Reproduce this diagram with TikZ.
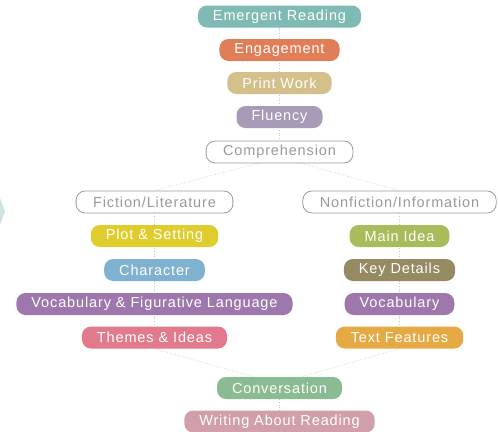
\documentclass[tikz,border=0pt]{standalone}
\usepackage{fontspec}
\setmainfont{Liberation Sans}[LetterSpace=6]
\usetikzlibrary{backgrounds}

\definecolor{emergent}{HTML}{7FBAB5}
\definecolor{engage}{HTML}{E07E58}
\definecolor{printw}{HTML}{D4C08A}
\definecolor{fluent}{HTML}{A89BB8}
\definecolor{outline}{HTML}{9A9A9A}
\definecolor{plotc}{HTML}{DFCD2E}
\definecolor{charc}{HTML}{7FB1D1}
\definecolor{vocabc}{HTML}{9E78AD}
\definecolor{themec}{HTML}{E07A8C}
\definecolor{mainc}{HTML}{A8BC5C}
\definecolor{keyc}{HTML}{968A63}
\definecolor{featc}{HTML}{E6AA45}
\definecolor{convc}{HTML}{8ABB92}
\definecolor{writec}{HTML}{D09FAA}
\definecolor{chevron}{HTML}{CFE3E2}

\begin{document}
\begin{tikzpicture}[
        x=1bp, y=-1bp,
        every node/.style={font=\fontsize{14.5bp}{16bp}\selectfont},
        pill/.style={rounded corners=9bp, minimum height=22bp,
          inner xsep=15bp, inner ysep=0pt, text=white, fill=#1},
        hollow/.style={rounded corners=9bp, minimum height=22bp,
          inner xsep=17bp, inner ysep=0pt, text=outline, draw=outline,
          fill=white, line width=0.8pt},
        link/.style={draw=black!22, dotted, line width=0.7pt}
    ]
    \useasboundingbox (0,0) rectangle (498,431);

    % Chevron at the left edge
    \fill[chevron] (0,198) -- (5,211.5) -- (0,225) -- cycle;

    % Trunk
    \node[pill=emergent] (emerg) at (279.5,16.5) {Emergent Reading};
    \node[pill=engage] (engage) at (279.5,50) {Engagement};
    \node[pill=printw] (print) at (279.5,83) {Print Work};
    \node[pill=fluent] (fluency) at (279.5,117) {Fluency};
    \node[hollow] (comp) at (279.5,152) {Comprehension};

    % Fiction side
    \node[hollow] (fiction) at (154.5,202) {Fiction/Literature};
    \node[pill=plotc] (plot) at (154.5,236) {Plot \& Setting};
    \node[pill=charc] (char) at (154.5,270) {Character};
    \node[pill=vocabc] (figlang) at (154.5,304) {Vocabulary \& Figurative Language};
    \node[pill=themec] (themes) at (154.5,337.5) {Themes \& Ideas};

    % Nonfiction side
    \node[hollow] (nonfic) at (399.5,202) {Nonfiction/Information};
    \node[pill=mainc] (mainidea) at (399.5,236) {Main Idea};
    \node[pill=keyc] (keydet) at (399.5,270) {Key Details};
    \node[pill=vocabc] (vocab) at (399.5,304) {Vocabulary};
    \node[pill=featc] (feat) at (399.5,337.5) {Text Features};

    % Bottom
    \node[pill=convc] (conv) at (279.5,388) {Conversation};
    \node[pill=writec] (writing) at (279.5,421.5) {Writing About Reading};

    % Dotted connectors
    \begin{scope}[on background layer]
      \draw[link] (emerg) -- (comp);
      \draw[link] ([xshift=-22bp]comp.south) -- (fiction.north);
      \draw[link] ([xshift=22bp]comp.south) -- (nonfic.north);
      \draw[link] (fiction) -- (themes);
      \draw[link] (nonfic) -- (feat);
      \draw[link] (themes.south) -- ([xshift=-26bp]conv.north);
      \draw[link] (feat.south) -- ([xshift=22bp]conv.north);
      \draw[link] (conv) -- (writing);
    \end{scope}
\end{tikzpicture}
\end{document}
